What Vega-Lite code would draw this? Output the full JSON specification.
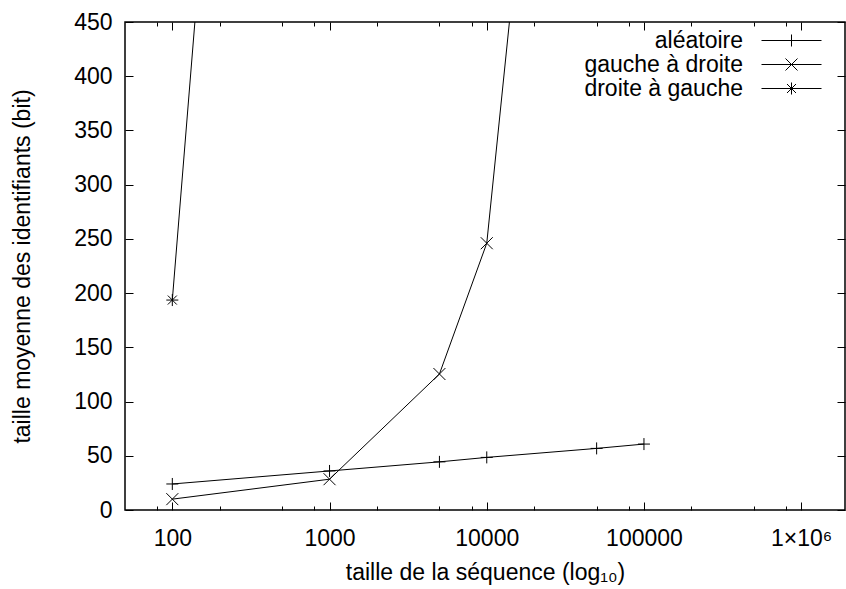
{
  "$schema": "https://vega.github.io/schema/vega-lite/v6.json",
  "width": 720,
  "height": 488,
  "autosize": {"type": "none"},
  "padding": {"left": 125, "top": 22, "right": 1, "bottom": 79},
  "background": "white",
  "config": {
    "font": "Liberation Sans",
    "view": {"stroke": "black", "strokeWidth": 1.5},
    "axis": {
      "domain": false,
      "grid": false,
      "labelFont": "Liberation Sans",
      "labelFontSize": 23,
      "labelColor": "black",
      "titleFont": "Liberation Sans",
      "titleFontSize": 23,
      "titleFontWeight": "normal",
      "titleColor": "black",
      "tickColor": "black",
      "tickWidth": 1
    }
  },
  "data": {
    "values": [
      {"serie": "aléatoire", "n": 100, "taille": 24},
      {"serie": "aléatoire", "n": 1000, "taille": 36},
      {"serie": "aléatoire", "n": 5000, "taille": 44.4},
      {"serie": "aléatoire", "n": 10000, "taille": 48.5},
      {"serie": "aléatoire", "n": 50000, "taille": 56.8},
      {"serie": "aléatoire", "n": 100000, "taille": 60.8},
      {"serie": "gauche à droite", "n": 100, "taille": 10},
      {"serie": "gauche à droite", "n": 1000, "taille": 28.4},
      {"serie": "gauche à droite", "n": 5000, "taille": 125.4},
      {"serie": "gauche à droite", "n": 10000, "taille": 246},
      {"serie": "gauche à droite", "n": 50000, "taille": 1235},
      {"serie": "droite à gauche", "n": 100, "taille": 193.6},
      {"serie": "droite à gauche", "n": 1000, "taille": 1980}
    ]
  },
  "layer": [
    {
      "mark": {"type": "line", "color": "black", "strokeWidth": 1, "clip": true},
      "encoding": {
        "x": {"field": "n", "type": "quantitative",
          "scale": {"type": "log", "domain": [50, 1900000], "nice": false},
          "axis": {"orient": "bottom", "values": [100, 1000, 10000, 100000, 1000000],
            "labelExpr": "datum.value >= 1000000 ? '1×10⁶' : format(datum.value, 'd')",
            "tickSize": -8, "labelPadding": 25, "labelFlush": false,
            "title": "taille de la séquence (log₁₀)", "titlePadding": 11}},
        "y": {"field": "taille", "type": "quantitative",
          "scale": {"domain": [0, 450], "nice": false},
          "axis": {"orient": "left", "values": [0, 50, 100, 150, 200, 250, 300, 350, 400, 450],
            "tickSize": -8, "labelPadding": 21, "labelFlush": false,
            "title": "taille moyenne des identifiants (bit)", "titlePadding": 39}},
        "detail": {"field": "serie"}
      }
    },
    {
      "mark": {"type": "point", "filled": false, "stroke": "black", "strokeWidth": 1, "size": 144, "clip": true, "opacity": 1},
      "encoding": {
        "x": {"field": "n", "type": "quantitative",
          "scale": {"type": "log", "domain": [50, 1900000], "nice": false},
          "axis": {"orient": "top", "values": [100, 1000, 10000, 100000, 1000000], "labels": false, "tickSize": -8, "title": null}},
        "y": {"field": "taille", "type": "quantitative",
          "scale": {"domain": [0, 450], "nice": false},
          "axis": {"orient": "right", "values": [0, 50, 100, 150, 200, 250, 300, 350, 400, 450], "labels": false, "tickSize": -8, "title": null}},
        "shape": {"field": "serie", "type": "nominal",
          "scale": {"domain": ["aléatoire", "gauche à droite", "droite à gauche"],
            "range": ["M-1,0H1M0,-1V1", "M-1,-1L1,1M-1,1L1,-1", "M-1,0H1M0,-1V1M-0.75,-0.75L0.75,0.75M-0.75,0.75L0.75,-0.75"]},
          "legend": null}
      }
    },
    {
      "mark": {"type": "point", "filled": false, "stroke": "black", "strokeWidth": 1, "opacity": 0, "clip": true},
      "encoding": {
        "x": {"field": "n", "type": "quantitative",
          "scale": {"type": "log", "domain": [50, 1900000], "nice": false},
          "axis": {"orient": "bottom", "values": [80, 200, 500, 800, 2000, 5000, 8000, 20000, 50000, 80000, 200000, 500000, 800000], "labels": false, "tickSize": -4, "title": null}},
        "y": {"field": "taille", "type": "quantitative",
          "scale": {"domain": [0, 450], "nice": false}, "axis": null},
        "shape": {"field": "serie", "type": "nominal",
          "scale": {"domain": ["aléatoire", "gauche à droite", "droite à gauche"],
            "range": ["M-6,0H6M0,-1.2V1.2", "M-6,0H6M-1.2,-1.2L1.2,1.2M-1.2,1.2L1.2,-1.2", "M-6,0H6M0,-1.2V1.2M-0.9,-0.9L0.9,0.9M-0.9,0.9L0.9,-0.9"]},
          "legend": {"title": null, "orient": "none", "legendX": 655, "legendY": 7,
            "symbolSize": 100, "symbolStrokeColor": "black", "symbolFillColor": "transparent",
            "symbolStrokeWidth": 1, "symbolOpacity": 1,
            "labelAlign": "right", "labelOffset": -60, "labelFontSize": 23, "labelFont": "Liberation Sans",
            "labelColor": "black", "rowPadding": -1.5, "labelLimit": 300}}
      }
    },
    {
      "mark": {"type": "point", "opacity": 0, "clip": true},
      "encoding": {
        "x": {"field": "n", "type": "quantitative",
          "scale": {"type": "log", "domain": [50, 1900000], "nice": false},
          "axis": {"orient": "top", "values": [80, 200, 500, 800, 2000, 5000, 8000, 20000, 50000, 80000, 200000, 500000, 800000], "labels": false, "tickSize": -4, "title": null}},
        "y": {"field": "taille", "type": "quantitative",
          "scale": {"domain": [0, 450], "nice": false}, "axis": null}
      }
    }
  ],
  "resolve": {"axis": {"x": "independent", "y": "independent"}, "scale": {"shape": "independent"}}
}
